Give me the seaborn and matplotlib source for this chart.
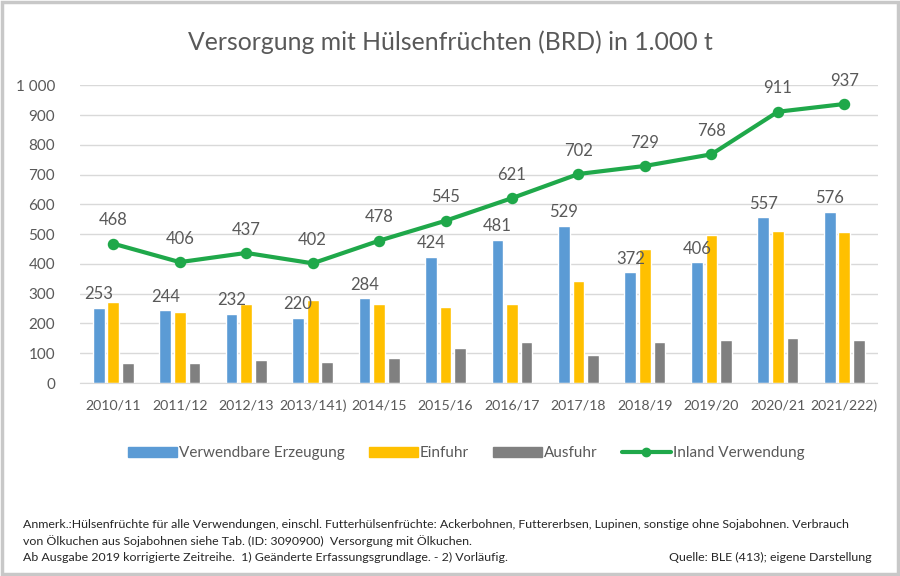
import numpy as np
import pandas as pd
import matplotlib
matplotlib.use('Agg')
import matplotlib.pyplot as plt
import seaborn as sns
from matplotlib.ticker import FuncFormatter
from matplotlib.patches import Rectangle
from matplotlib.lines import Line2D
from matplotlib.patches import Patch

jahre = ['2010/11', '2011/12', '2012/13', '2013/141)', '2014/15', '2015/16',
         '2016/17', '2017/18', '2018/19', '2019/20', '2020/21', '2021/222)']
erzeugung = [253, 244, 232, 220, 284, 424, 481, 529, 372, 406, 557, 576]
einfuhr = [272, 239, 267, 280, 267, 255, 267, 342, 450, 498, 511, 507]
ausfuhr = [67, 67, 76, 71, 85, 116, 137, 95, 137, 146, 152, 146]
inland = [468, 406, 437, 402, 478, 545, 621, 702, 729, 768, 911, 937]

serien = ['Verwendbare Erzeugung', 'Einfuhr', 'Ausfuhr']
farben = ['#5B9BD5', '#FFC000', '#808080']
gruen = '#1FA84A'
textgrau = '#595959'

df = pd.DataFrame({'Jahr': jahre, serien[0]: erzeugung, serien[1]: einfuhr, serien[2]: ausfuhr})
long = df.melt(id_vars='Jahr', var_name='Serie', value_name='Wert')

sns.set_style('white')
plt.rcParams['font.family'] = ['Lato', 'DejaVu Sans']

fig = plt.figure(figsize=(9, 5.76), dpi=100)
ax = fig.add_axes([0.089, 0.335, 0.886, 0.517])

sns.barplot(data=long, x='Jahr', y='Wert', hue='Serie', hue_order=serien,
            palette=farben, width=0.66, gap=0.2, ax=ax, legend=False, saturation=1)
sns.pointplot(x=jahre, y=inland, color=gruen, ax=ax, markers='o',
              markersize=6, linewidth=3)

ax.set_ylim(0, 1000)
ax.set_xlim(-0.5, len(jahre) - 0.5)
ax.set_yticks(range(0, 1001, 100))
ax.yaxis.set_major_formatter(FuncFormatter(lambda v, p: f'{int(v):,}'.replace(',', ' ')))
ax.grid(axis='y', color='#D9D9D9', linewidth=1)
ax.set_axisbelow(True)
for s in ['top', 'right', 'left']:
    ax.spines[s].set_visible(False)
ax.spines['bottom'].set_color('#D9D9D9')
ax.tick_params(axis='both', length=0, colors=textgrau, labelsize=11)
ax.tick_params(axis='x', pad=12, labelsize=10.2)
ax.tick_params(axis='y', pad=18)
ax.set_xlabel('')
ax.set_ylabel('')

for i, v in enumerate(erzeugung):
    ax.annotate(str(v), (i - 0.22, v), xytext=(0, 4), textcoords='offset points',
                ha='center', va='bottom', fontsize=12, color=textgrau)
for i, v in enumerate(inland):
    ax.annotate(str(v), (i, v), xytext=(0, 11), textcoords='offset points',
                ha='center', va='bottom', fontsize=12, color=textgrau)

fig.text(0.5, 0.927, 'Versorgung mit Hülsenfrüchten (BRD) in 1.000 t', ha='center',
         va='center', fontsize=17.8, color=textgrau)

handles = [Patch(color=farben[0]), Patch(color=farben[1]), Patch(color=farben[2]),
           Line2D([0], [0], color=gruen, lw=3, marker='o', markersize=6)]
fig.legend(handles, serien + ['Inland Verwendung'], loc='center', bbox_to_anchor=(0.518, 0.213),
           ncol=4, frameon=False, fontsize=11, labelcolor=textgrau,
           handlelength=3.2, handleheight=0.65, handletextpad=0.12, columnspacing=1.6)

fn = 8.9
fig.text(0.026, 0.09, 'Anmerk.:Hülsenfrüchte für alle Verwendungen, einschl. Futterhülsenfrüchte: Ackerbohnen, '
         'Futtererbsen, Lupinen, sonstige ohne Sojabohnen. Verbrauch', fontsize=fn, color='#262626', va='center')
fig.text(0.026, 0.061, 'von Ölkuchen aus Sojabohnen siehe Tab. (ID: 3090900)  Versorgung mit Ölkuchen.',
         fontsize=fn, color='#262626', va='center')
fig.text(0.026, 0.033, 'Ab Ausgabe 2019 korrigierte Zeitreihe.  1) Geänderte Erfassungsgrundlage. - 2) Vorläufig.',
         fontsize=fn, color='#262626', va='center')
fig.text(0.968, 0.033, 'Quelle: BLE (413); eigene Darstellung', fontsize=fn, color='#262626',
         va='center', ha='right')

fig.patches.append(Rectangle((0.002, 0.003), 0.996, 0.994, transform=fig.transFigure,
                             fill=False, edgecolor='#C8C8C8', linewidth=2.5))

fig.savefig('out.png', dpi=100)
